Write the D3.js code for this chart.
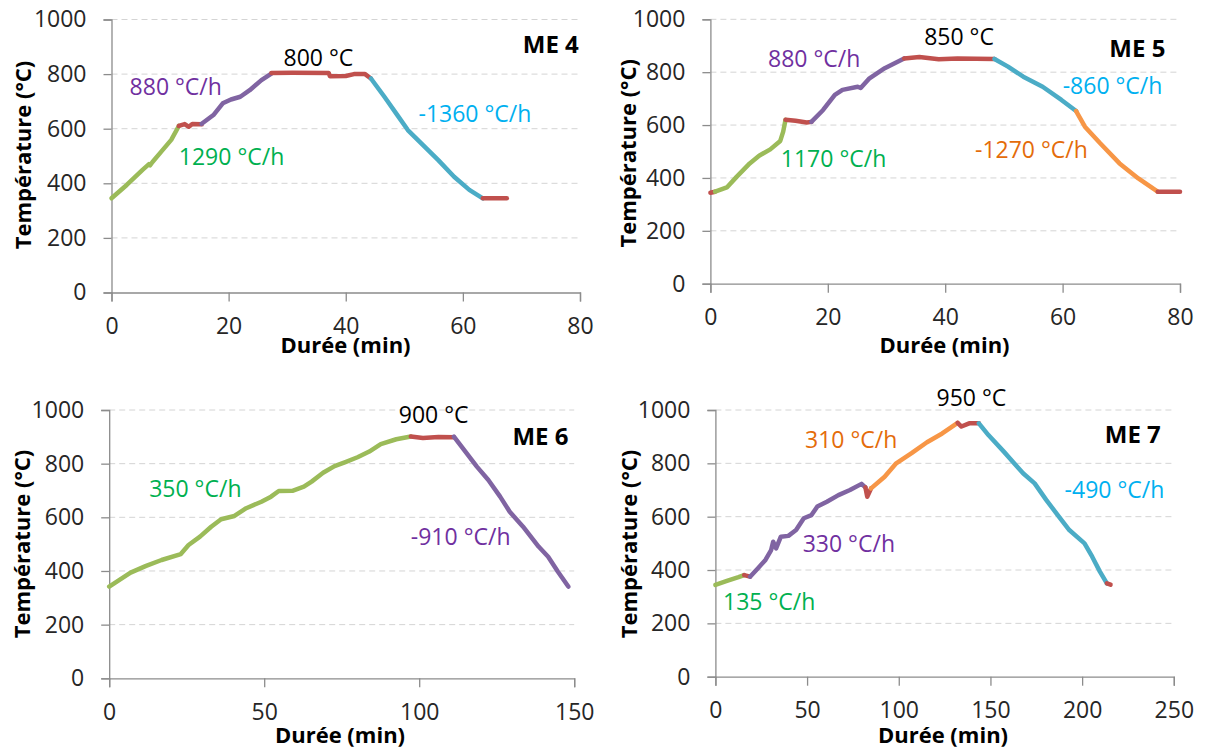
<!DOCTYPE html>
<html><head><meta charset="utf-8">
<script src="https://cdn.jsdelivr.net/npm/d3@7"></script>
<style>
body{margin:0;background:#fff}
svg{display:block}
text{font-family:'Open Sans',sans-serif}
</style>
</head><body>
<svg id="c" width="1205" height="753"></svg>
<script>
// ---------- data ----------
const yTicks = [0, 200, 400, 600, 800, 1000];
const xTicksME4 = [0, 20, 40, 60, 80];
const xTicksME5 = [0, 20, 40, 60, 80];
const xTicksME6 = [0, 50, 100, 150];
const xTicksME7 = [0, 50, 100, 150, 200, 250];
const panelNames = ["ME 4", "ME 5", "ME 6", "ME 7"];

// ME 4 : [durée (min), température (°C)]
const me4Heat1 = [[0,345],[2.6,394],[5.3,449],[6.4,470],[6.6,466],[7,478],[8.5,516],[10.2,559],[11.5,610]];
const me4Hold1 = [[11.5,610],[12.5,617],[13.2,607],[13.8,617],[15.4,616]];
const me4Heat2 = [[15.4,618],[17.4,650],[19,693],[20.4,707],[22,717],[23.6,741],[25.6,778],[27.3,802]];
const me4Hold2 = [[27.3,804],[30.9,805],[37.1,804],[37.3,792],[40,793],[41.4,800],[43.3,800],[44.3,784]];
const me4Cool  = [[44.3,784],[46.6,717],[48.6,656],[50.6,595],[53.2,540],[55.8,485],[58.5,424],[61.1,376],[63.4,345]];
const me4End   = [[63.4,345],[67.5,345]];

// ME 5
const me5Start = [[0,344],[0.8,348]];
const me5Heat1 = [[0.8,348],[2.8,364],[4.5,405],[6.7,455],[8.3,484],[10.2,508],[11.9,540],[12.4,575],[12.8,620]];
const me5Hold1 = [[12.8,620],[14.5,616],[16.4,610],[17.2,612]];
const me5Heat2 = [[17.2,612],[19.2,657],[21.2,714],[22.5,733],[25.1,745],[25.6,740],[27.1,777],[29.7,815],[33,852]];
const me5Hold2 = [[33,852],[35.6,857],[38.9,849],[42.1,852],[48.4,850]];
const me5Cool1 = [[48.4,850],[50.7,821],[53.3,783],[56.6,745],[59.8,695],[62.3,653]];
const me5Cool2 = [[62.3,653],[63.8,594],[66.4,531],[69.7,455],[72.9,398],[76.2,348]];
const me5End   = [[76.2,348],[80,348]];

// ME 6
const me6Heat = [[0,342],[3.2,366],[6.9,394],[11.9,419],[16.9,441],[23.1,463],[25.6,497],[29.3,528],[32.9,565],[36.1,593],[40.4,605],[44.2,634],[49.1,658],[52.2,677],[54.7,698],[59.1,699],[62.8,714],[65.3,733],[69,766],[72.7,791],[76.4,807],[80.1,824],[83.9,845],[87.6,873],[92.6,891],[97.3,901]];
const me6Hold = [[97.3,901],[101.2,896],[106.2,899],[111.2,898]];
const me6Cool = [[111.2,901],[114.9,845],[118.6,789],[122.3,739],[126.1,677],[129.2,621],[133.5,565],[138.5,491],[141.6,453],[144.7,398],[148.1,342]];

// ME 7
const me7Heat1 = [[0,344],[6.3,359],[12.6,373],[15.7,381]];
const me7Hold1 = [[15.7,381],[18.9,375]];
const me7Heat2 = [[18.9,375],[23.1,406],[27.3,438],[30.4,475],[31.5,506],[33.1,481],[35.7,525],[39.8,528],[44,550],[48.2,594],[52.4,606],[55.6,638],[60.8,656],[67.1,681],[73.4,700],[79.7,723],[81.8,710]];
const me7Hold2 = [[81.8,710],[82.8,675],[84.9,706]];
const me7Heat3 = [[84.9,706],[92.3,750],[98.6,800],[107,838],[115.4,879],[123.7,912],[132.1,952]];
const me7Hold3 = [[132.1,952],[134.2,938],[138.4,950],[143.7,950]];
const me7Cool  = [[143.7,950],[148.9,906],[157.3,844],[167.8,763],[174.1,725],[180.4,663],[186.7,606],[193,550],[201.3,500],[205.5,450],[209.7,394],[213.5,350]];
const me7End   = [[213.5,350],[215.5,345]];

const notesME4 = ["800 °C", "880 °C/h", "1290 °C/h", "-1360 °C/h"];
const notesME5 = ["850 °C", "880 °C/h", "1170 °C/h", "-860 °C/h", "-1270 °C/h"];
const notesME6 = ["900 °C", "350 °C/h", "-910 °C/h"];
const notesME7 = ["950 °C", "310 °C/h", "330 °C/h", "135 °C/h", "-490 °C/h"];

// ---------- styles / layout ----------
const C = {green:"#9BBB59", red:"#C0504D", purple:"#8064A2", blue:"#4BACC6", orange:"#F79646"};
const T = {black:"#000000", green:"#00B050", purple:"#7030A0", blue:"#00B0F0", orange:"#E46C0A"};

const panels = [
  { name: panelNames[0], xMax: 80, xTicks: xTicksME4, box:{x0:111.5,x1:580,y0:292.5,y1:19.5},
    segs: [[me4Heat1,C.green],[me4Hold1,C.red],[me4Heat2,C.purple],[me4Hold2,C.red],[me4Cool,C.blue],[me4End,C.red]],
    notes: [[notesME4[0],283.5,65.7,T.black],[notesME4[1],129.6,95,T.purple],[notesME4[2],178.8,165,T.green],[notesME4[3],418.5,121.7,T.blue]],
    me:[578.8,53.3], xTitle:[345.5,353], yTitle:[31,155] },
  { name: panelNames[1], xMax: 80, xTicks: xTicksME5, box:{x0:710.4,x1:1180,y0:283.7,y1:19.3},
    segs: [[me5Start,C.red],[me5Heat1,C.green],[me5Hold1,C.red],[me5Heat2,C.purple],[me5Hold2,C.red],[me5Cool1,C.blue],[me5Cool2,C.orange],[me5End,C.red]],
    notes: [[notesME5[0],924.2,45,T.black],[notesME5[1],768,67.3,T.purple],[notesME5[2],780.8,166.7,T.green],[notesME5[3],1062.7,94,T.blue],[notesME5[4],975,158.3,T.orange]],
    me:[1165.4,57.3], xTitle:[944.5,353], yTitle:[636,153.3] },
  { name: panelNames[2], xMax: 150, xTicks: xTicksME6, box:{x0:109.2,x1:574.2,y0:678.3,y1:410},
    segs: [[me6Heat,C.green],[me6Hold,C.red],[me6Cool,C.purple]],
    notes: [[notesME6[0],398.8,423.3,T.black],[notesME6[1],149.2,496.7,T.green],[notesME6[2],410.8,545,T.purple]],
    me:[568.5,445], xTitle:[340,743], yTitle:[30,544] },
  { name: panelNames[3], xMax: 250, xTicks: xTicksME7, box:{x0:715.4,x1:1173.8,y0:676.7,y1:410},
    segs: [[me7Heat1,C.green],[me7Hold1,C.red],[me7Heat2,C.purple],[me7Hold2,C.red],[me7Heat3,C.orange],[me7Hold3,C.red],[me7Cool,C.blue],[me7End,C.red]],
    notes: [[notesME7[0],936.5,405.7,T.black],[notesME7[1],805,448.3,T.orange],[notesME7[2],802.7,551.7,T.purple],[notesME7[3],723,610,T.green],[notesME7[4],1064.6,498.3,T.blue]],
    me:[1160.8,443.3], xTitle:[943,743], yTitle:[637,544] }
];

const svg = d3.select("#c");

panels.forEach(p => {
  const b = p.box;
  const x = d3.scaleLinear().domain([0, p.xMax]).range([b.x0, b.x1]);
  const y = d3.scaleLinear().domain([0, 1000]).range([b.y0, b.y1]);
  const g = svg.append("g");

  // grid
  g.append("g").selectAll("line").data(yTicks.filter(v => v > 0)).join("line")
    .attr("x1", b.x0).attr("x2", b.x1).attr("y1", d => y(d)).attr("y2", d => y(d))
    .attr("stroke", "#D4D4D4").attr("stroke-width", 1).attr("stroke-dasharray", "6,4");

  // y axis
  const ya = g.append("g").attr("transform", `translate(${b.x0},0)`)
    .call(d3.axisLeft(y).tickValues(yTicks).tickSize(8).tickPadding(17).tickFormat(d3.format("d")));
  ya.select(".domain").attr("stroke", "#8C8C8C").attr("stroke-width", 1.3);
  ya.selectAll(".tick line").attr("stroke", "#8C8C8C").attr("stroke-width", 1.3);
  ya.selectAll(".tick text").attr("font-size", 23).attr("fill", "#262626").attr("font-family", "'Open Sans',sans-serif");

  // x axis
  const xa = g.append("g").attr("transform", `translate(0,${b.y0})`)
    .call(d3.axisBottom(x).tickValues(p.xTicks).tickSize(9).tickPadding(16).tickFormat(d3.format("d")));
  xa.select(".domain").attr("stroke", "#8C8C8C").attr("stroke-width", 1.3);
  xa.selectAll(".tick line").attr("stroke", "#8C8C8C").attr("stroke-width", 1.3);
  xa.selectAll(".tick text").attr("font-size", 23).attr("fill", "#262626").attr("font-family", "'Open Sans',sans-serif");

  // curves
  const line = d3.line().x(d => x(d[0])).y(d => y(d[1]));
  p.segs.forEach(([data, col]) => {
    g.append("path").attr("d", line(data)).attr("fill", "none").attr("stroke", col)
      .attr("stroke-width", 4.5).attr("stroke-linejoin", "round").attr("stroke-linecap", "round");
  });

  // annotations
  p.notes.forEach(([txt, tx, ty, col]) => {
    g.append("text").attr("x", tx).attr("y", ty).attr("font-size", 23).attr("fill", col).text(txt);
  });

  // panel label
  g.append("text").attr("x", p.me[0]).attr("y", p.me[1]).attr("text-anchor", "end")
    .attr("font-size", 24).attr("font-weight", "bold").attr("fill", "#000").text(p.name);

  // axis titles
  g.append("text").attr("x", p.xTitle[0]).attr("y", p.xTitle[1]).attr("text-anchor", "middle")
    .attr("font-size", 22).attr("font-weight", "bold").attr("fill", "#000").text("Durée (min)");
  g.append("text").attr("transform", `translate(${p.yTitle[0]},${p.yTitle[1]}) rotate(-90)`)
    .attr("text-anchor", "middle").attr("font-size", 22).attr("font-weight", "bold").attr("fill", "#000")
    .text("Température (°C)");
});
</script>
</body></html>
